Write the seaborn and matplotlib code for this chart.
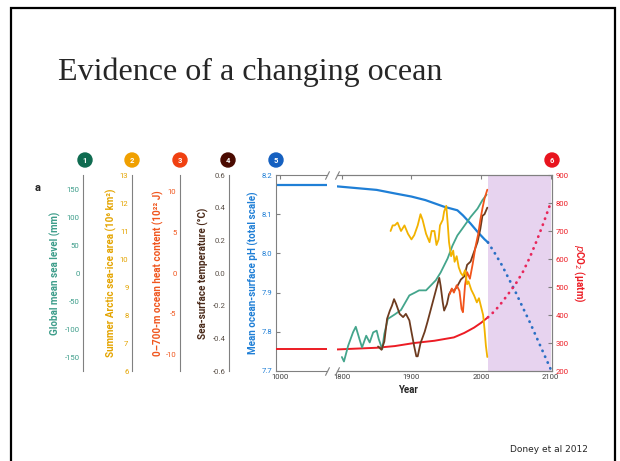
import matplotlib
matplotlib.use("Agg")
import matplotlib.pyplot as plt
import seaborn as sns
from matplotlib.patches import Circle

# ---- values ----
pre_years = [992, 1090]
pre_ph = [8.174, 8.174]
pre_pco2 = [277, 277]

ph_years = [1793, 1850, 1876, 1900, 1920, 1947, 1966, 1974, 1985, 1995, 2005, 2010]
ph_values = [8.171, 8.162, 8.153, 8.145, 8.136, 8.119, 8.110, 8.097, 8.076, 8.055, 8.036, 8.028]
ph_proj_years = [2010, 2020, 2030, 2040, 2050, 2060, 2070, 2080, 2090, 2100]
ph_proj = [8.028, 8.000, 7.970, 7.935, 7.900, 7.862, 7.825, 7.785, 7.745, 7.705]

pco2_years = [1793, 1850, 1876, 1904, 1933, 1961, 1976, 1990, 2000, 2010]
pco2_values = [277, 283, 289, 300, 308, 320, 336, 355, 372, 392]
pco2_proj_years = [2010, 2020, 2030, 2040, 2050, 2060, 2070, 2080, 2090, 2100]
pco2_proj = [392, 415, 445, 478, 512, 553, 605, 665, 730, 800]

sl_years = [1800, 1803, 1809, 1816, 1820, 1826, 1829, 1835, 1840, 1845, 1850, 1853, 1858,
            1861, 1866, 1876, 1885, 1897, 1905, 1911, 1921, 1928, 1935, 1942, 1952, 1959,
            1966, 1973, 1985, 1995, 2002, 2008]
sl_mm = [-150, -158, -130, -106, -96, -121, -133, -112, -124, -106, -103, -118, -136,
         -109, -82, -74, -66, -40, -35, -31, -31, -22, -13, 1, 26, 49,
         67, 79, 100, 115, 130, 140]

ice_years = [1870, 1873, 1876, 1880, 1885, 1890, 1895, 1900, 1904, 1909, 1913, 1916, 1921,
             1926, 1929, 1933, 1936, 1939, 1941, 1945, 1947, 1950, 1952, 1954, 1957, 1960,
             1962, 1965, 1968, 1971, 1974, 1977, 1980, 1982, 1986, 1990, 1994, 1997, 2000,
             2003, 2005, 2007, 2009]
ice_area = [11.0, 11.2, 11.2, 11.3, 11.0, 11.2, 10.9, 10.7, 10.85, 11.2, 11.6, 11.4, 10.9,
            10.6, 11.0, 11.0, 10.5, 10.7, 11.2, 11.4, 11.7, 11.9, 11.3, 10.6, 10.1, 10.3,
            9.9, 10.1, 9.7, 9.5, 9.4, 9.6, 9.1, 9.2, 8.9, 8.7, 8.45, 8.6, 8.3,
            8.0, 7.5, 6.9, 6.5]

heat_years = [1955, 1958, 1961, 1965, 1969, 1972, 1974, 1977, 1980, 1984, 1988, 1992, 1996,
              1999, 2002, 2005, 2009]
heat_vals = [-2.6, -1.9, -2.4, -1.5, -2.2, -4.4, -4.8, -1.5, 0.1, -0.7, 1.1, 3.2, 4.8,
             6.5, 7.9, 9.1, 10.2]

sst_years = [1852, 1857, 1861, 1865, 1869, 1872, 1875, 1878, 1883, 1888, 1892, 1897, 1900,
             1904, 1907, 1909, 1913, 1919, 1923, 1928, 1933, 1938, 1940, 1942, 1945, 1947,
             1951, 1954, 1958, 1961, 1966, 1971, 1976, 1980, 1985, 1990, 1995, 1999, 2002,
             2005, 2009]
sst_vals = [-0.45, -0.47, -0.42, -0.28, -0.23, -0.20, -0.16, -0.19, -0.25, -0.27, -0.25, -0.29,
            -0.36, -0.45, -0.51, -0.51, -0.43, -0.36, -0.30, -0.22, -0.14, -0.06, -0.03, -0.08,
            -0.18, -0.23, -0.19, -0.13, -0.10, -0.11, -0.08, -0.04, -0.02, 0.05, 0.07, 0.13,
            0.19, 0.27, 0.35, 0.36, 0.40]

sl_ticks = [-150, -100, -50, 0, 50, 100, 150]
ice_ticks = [6, 7, 8, 9, 10, 11, 12, 13]
heat_ticks = [-10, -5, 0, 5, 10]
sst_ticks = [-0.6, -0.4, -0.2, 0.0, 0.2, 0.4, 0.6]
ph_ticks = [7.7, 7.8, 7.9, 8.0, 8.1, 8.2]
pco2_ticks = [200, 300, 400, 500, 600, 700, 800, 900]
year_ticks = [1800, 1900, 2000, 2100]

teal, gold, heat_c, brown = '#44a58c', '#f2b200', '#f2541b', '#6e3b1f'
blue, red = '#1f7fd6', '#ec1c24'
gray = '#808080'

sns.set_style('white')
plt.rcParams['font.family'] = ['Roboto', 'DejaVu Sans']

W, H = 620, 461
fig = plt.figure(figsize=(6.2, 4.61), dpi=100)


def box(x0, x1, y_top, y_bot):
    return [x0 / W, 1 - y_bot / H, (x1 - x0) / W, (y_bot - y_top) / H]


TOP, BOT = 175, 371
TICK_FS = 5.6

# pixel overlay for slide decoration
ov = fig.add_axes([0, 0, 1, 1])
ov.set_xlim(0, W)
ov.set_ylim(H, 0)
ov.axis('off')
ov.plot([11, 11, 615, 615], [H, 8, 8, H], color='black', lw=1.6, solid_joinstyle='miter')
ov.text(58, 80, 'Evidence of a changing ocean', fontsize=23, family='Liberation Serif',
        va='baseline', ha='left')
ov.text(588, 452, 'Doney et al 2012', fontsize=6.5, family='DejaVu Sans', ha='right', va='baseline')
ov.text(38, 188, 'a', fontsize=8, fontweight='bold', ha='center', va='center')

circle_x = [85, 132, 180, 228, 276, 552]
circle_c = ['#0e6b50', '#f0a000', '#f04010', '#4a0a00', '#1560c0', '#e8141e']
for i, (cx, cc) in enumerate(zip(circle_x, circle_c)):
    ov.add_patch(Circle((cx, 160), 7, color=cc))
    ov.text(cx, 160.5, str(i + 1), color='white', fontsize=5.5, fontweight='bold',
            ha='center', va='center')

# ---- main axes (broken x axis) ----
ax_pre = fig.add_axes(box(276, 327, TOP, BOT))
ax = fig.add_axes(box(337, 552, TOP, BOT))
for a in (ax_pre, ax):
    a.patch.set_visible(False)
    for sp in a.spines.values():
        sp.set_color(gray)
        sp.set_linewidth(0.8)

ax.axvspan(2010, 2100, color='#e7d3ef', lw=0)

sns.lineplot(x=pre_years, y=pre_ph, ax=ax_pre, color=blue, linewidth=1.6)
sns.lineplot(x=ph_years, y=ph_values, ax=ax, color=blue, linewidth=1.6)
sns.lineplot(x=ph_proj_years, y=ph_proj, ax=ax, color='#2a6fc4', linewidth=2.0,
             linestyle=(0, (0.1, 2.2)), dash_capstyle='round')

ax_pre_r = ax_pre.twinx()
sns.lineplot(x=pre_years, y=pre_pco2, ax=ax_pre_r, color=red, linewidth=1.4)
ax_pre_r.set_ylim(200, 900)
ax_pre_r.axis('off')

ax_r = ax.twinx()
sns.lineplot(x=pco2_years, y=pco2_values, ax=ax_r, color=red, linewidth=1.4)
sns.lineplot(x=pco2_proj_years, y=pco2_proj, ax=ax_r, color='#e8265a', linewidth=2.0,
             linestyle=(0, (0.1, 2.2)), dash_capstyle='round')
ax_r.set_ylim(200, 900)

# other records drawn on their own scales over the same box
overlays = [
    (sl_years, sl_mm, (-175, 175), teal),
    (sst_years, sst_vals, (-0.6, 0.6), brown),
    (heat_years, heat_vals, (-12, 12), heat_c),
    (ice_years, ice_area, (6, 13), gold),
]
for xs, ys, lim, col in overlays:
    o = ax.twinx()
    sns.lineplot(x=xs, y=ys, ax=o, color=col, linewidth=1.3)
    o.set_ylim(lim)
    o.axis('off')

ax_pre.set_xlim(992, 1090)
ax.set_xlim(1793, 2102)
ax_pre.set_ylim(7.7, 8.2)
ax.set_ylim(7.7, 8.2)

ax_pre.spines['right'].set_visible(False)
ax.spines['left'].set_visible(False)
ax_r.spines['left'].set_visible(False)
for sp in ax_r.spines.values():
    sp.set_color(gray)
    sp.set_linewidth(0.8)

ax_pre.set_xticks([1000])
ax_pre.set_xticklabels(['1000'])
ax_pre.set_yticks(ph_ticks)
ax_pre.set_yticklabels([f'{v:.1f}' for v in ph_ticks])
ax_pre.tick_params(axis='x', direction='in', top=True, length=3, color=gray, labelsize=TICK_FS,
                   labelcolor='#404040', pad=2.5)
ax_pre.tick_params(axis='y', direction='in', length=3, color=gray, labelcolor=blue,
                   labelsize=TICK_FS, pad=2.5)

ax.set_xticks(year_ticks)
ax.set_xticklabels([str(y) for y in year_ticks])
ax.set_yticks([])
ax.tick_params(axis='x', direction='in', top=True, length=3, color=gray, labelsize=TICK_FS,
               labelcolor='#404040', pad=2.5)

ax_r.set_yticks(pco2_ticks)
ax_r.set_yticklabels([str(v) for v in pco2_ticks])
ax_r.tick_params(axis='y', direction='in', length=3, color=gray, labelcolor=red,
                 labelsize=TICK_FS, pad=2.5)

for a in (ax_pre, ax, ax_r):
    a.set_xlabel('')
    a.set_ylabel('')

# break marks
brk = dict(marker=[(-0.5, -1), (0.5, 1)], markersize=6, linestyle='none', color=gray,
           mec=gray, mew=0.8, clip_on=False)
ax_pre.plot([1, 1], [0, 1], transform=ax_pre.transAxes, **brk)
ax.plot([0, 0], [0, 1], transform=ax.transAxes, **brk)

# ---- stand-alone scales on the left ----
scales = [
    (83, (-175, 175), sl_ticks, [str(v) for v in sl_ticks], '#3d9d8a'),
    (132, (6, 13), ice_ticks, [str(v) for v in ice_ticks], '#e4a400'),
    (180, (-12, 12), heat_ticks, [str(v) for v in heat_ticks], '#f0561e'),
    (229, (-0.6, 0.6), sst_ticks, [f'{v:.1f}' for v in sst_ticks], '#5a5048'),
]
for x, lim, ticks, labels, col in scales:
    s = fig.add_axes(box(x, x + 1, TOP, BOT))
    s.patch.set_visible(False)
    s.set_ylim(lim)
    s.set_yticks(ticks)
    s.set_yticklabels(labels)
    s.set_xticks([])
    for sp in ('top', 'right', 'bottom'):
        s.spines[sp].set_visible(False)
    s.spines['left'].set_color(gray)
    s.spines['left'].set_linewidth(0.8)
    s.tick_params(axis='y', direction='in', length=3, color=gray, labelcolor=col,
                  labelsize=TICK_FS, pad=2.5)

labels = [
    (55, 'Global mean sea level (mm)', '#3d9d8a', 90),
    (111, 'Summer Arctic sea-ice area (10⁶ km²)', '#e4a400', 90),
    (158, '0–700-m ocean heat content (10²² J)', '#f0561e', 90),
    (203, 'Sea-surface temperature (°C)', '#4a2a1a', 90),
    (253, 'Mean ocean-surface pH (total scale)', blue, 90),
    (579, '$p$CO$_2$ (μatm)', red, 270),
]
for x, txt, col, rot in labels:
    ov.text(x, 273, txt, color=col, rotation=rot, fontsize=7.1, fontweight='bold',
            ha='center', va='center')
ov.text(408, 390, 'Year', fontsize=7, fontweight='bold', ha='center', va='center')

fig.savefig('out.png', dpi=100)
